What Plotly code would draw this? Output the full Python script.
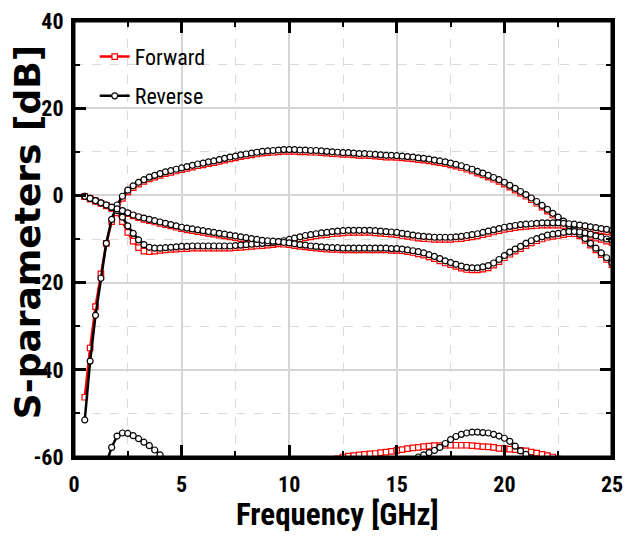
import plotly.graph_objects as go

# frequency points (GHz)
freq = [
    0.5, 0.75, 1.0, 1.25, 1.5, 1.75, 2.0, 2.25, 2.5, 2.75,
    3.0, 3.25, 3.5, 3.75, 4.0, 4.25, 4.5, 4.75, 5.0, 5.25,
    5.5, 5.75, 6.0, 6.25, 6.5, 6.75, 7.0, 7.25, 7.5, 7.75,
    8.0, 8.25, 8.5, 8.75, 9.0, 9.25, 9.5, 9.75, 10.0, 10.25,
    10.5, 10.75, 11.0, 11.25, 11.5, 11.75, 12.0, 12.25, 12.5, 12.75,
    13.0, 13.25, 13.5, 13.75, 14.0, 14.25, 14.5, 14.75, 15.0, 15.25,
    15.5, 15.75, 16.0, 16.25, 16.5, 16.75, 17.0, 17.25, 17.5, 17.75,
    18.0, 18.25, 18.5, 18.75, 19.0, 19.25, 19.5, 19.75, 20.0, 20.25,
    20.5, 20.75, 21.0, 21.25, 21.5, 21.75, 22.0, 22.25, 22.5, 22.75,
    23.0, 23.25, 23.5, 23.75, 24.0, 24.25, 24.5, 24.75, 25.0,
]

# ---- Reverse (black) ----
s21_rev = [
    -51.5, -38.0, -27.5, -19.0, -11.0, -5.5, -2.2, -0.2, 1.2, 2.2,
    3.0, 3.6, 4.2, 4.6, 5.0, 5.4, 5.7, 6.0, 6.3, 6.6,
    6.9, 7.2, 7.4, 7.7, 7.9, 8.2, 8.5, 8.8, 9.0, 9.3,
    9.5, 9.7, 9.9, 10.1, 10.2, 10.3, 10.4, 10.5, 10.5, 10.5,
    10.4, 10.4, 10.3, 10.3, 10.2, 10.1, 10.0, 9.9, 9.8, 9.8,
    9.7, 9.6, 9.6, 9.5, 9.4, 9.3, 9.2, 9.2, 9.1, 9.0,
    8.9, 8.8, 8.6, 8.5, 8.3, 8.1, 7.9, 7.7, 7.4, 7.1,
    6.8, 6.4, 6.0, 5.5, 5.1, 4.6, 4.1, 3.6, 3.0, 2.3,
    1.6, 0.9, 0.2, -0.6, -1.4, -2.3, -3.2, -4.1, -5.0, -5.9,
    -6.9, -7.9, -8.9, -9.9, -11.0, -12.1, -13.2, -14.3, -15.5,
]
s11_rev = [
    -0.2, -0.7, -1.2, -1.7, -2.2, -2.8, -3.5, -5.0, -7.0, -8.7,
    -10.2, -11.3, -11.9, -12.1, -12.1, -12.0, -11.9, -11.8, -11.7, -11.7,
    -11.6, -11.6, -11.6, -11.6, -11.6, -11.6, -11.6, -11.6, -11.5, -11.4,
    -11.3, -11.2, -11.1, -11.0, -10.9, -10.8, -10.6, -10.4, -10.1, -9.8,
    -9.5, -9.2, -9.0, -8.8, -8.6, -8.5, -8.3, -8.2, -8.1, -8.0,
    -8.0, -8.0, -8.0, -8.0, -8.1, -8.2, -8.3, -8.4, -8.5, -8.7,
    -8.9, -9.1, -9.3, -9.4, -9.5, -9.6, -9.6, -9.6, -9.6, -9.5,
    -9.4, -9.2, -9.0, -8.8, -8.5, -8.2, -7.9, -7.6, -7.3, -7.1,
    -6.9, -6.7, -6.6, -6.5, -6.4, -6.3, -6.3, -6.3, -6.3, -6.4,
    -6.5, -6.6, -6.8, -7.0, -7.2, -7.4, -7.6, -7.8, -8.0,
]
s22_rev = [
    -0.2, -0.7, -1.2, -1.7, -2.2, -2.7, -3.1, -3.5, -4.0, -4.5,
    -4.9, -5.2, -5.5, -5.8, -6.1, -6.4, -6.7, -7.0, -7.3, -7.5,
    -7.7, -7.9, -8.1, -8.3, -8.5, -8.7, -8.9, -9.1, -9.3, -9.5,
    -9.7, -9.9, -10.1, -10.3, -10.4, -10.5, -10.6, -10.8, -10.9, -11.1,
    -11.3, -11.4, -11.6, -11.7, -11.8, -11.9, -12.0, -12.0, -12.1, -12.1,
    -12.1, -12.1, -12.1, -12.1, -12.1, -12.1, -12.1, -12.2, -12.2, -12.3,
    -12.5, -12.7, -12.9, -13.2, -13.6, -14.0, -14.5, -15.0, -15.4, -15.8,
    -16.2, -16.5, -16.6, -16.6, -16.4, -16.1, -15.5, -14.7, -13.8, -13.0,
    -12.3, -11.7, -11.0, -10.4, -9.9, -9.5, -9.1, -8.9, -8.7, -8.5,
    -8.3, -8.3, -8.4, -8.6, -8.9, -9.3, -9.6, -10.0, -10.3,
]
s12_rev = [
    -75.0, -72.0, -69.0, -65.0, -61.5, -57.8, -55.2, -54.5, -54.6, -55.1,
    -55.8, -56.6, -57.4, -58.4, -59.5, -60.6, -61.7, -62.8, -64.0, -65.0,
    -66.0, -67.0, -68.0, -69.0, -70.0, -71.0, -72.0, -73.0, -74.0, -75.0,
    -76.0, -77.0, -78.0, -79.0, -80.0, -80.0, -80.0, -80.0, -80.0, -80.0,
    -80.0, -79.0, -78.0, -77.0, -76.0, -75.0, -74.0, -73.0, -72.0, -71.0,
    -70.0, -69.0, -68.0, -67.0, -66.0, -65.0, -64.0, -63.3, -62.6, -62.0,
    -61.4, -60.7, -60.0, -59.5, -59.0, -58.5, -57.8, -56.9, -56.0, -55.3,
    -54.8, -54.5, -54.3, -54.3, -54.4, -54.5, -54.8, -55.2, -55.7, -56.4,
    -57.5, -58.6, -59.4, -60.2, -61.0, -62.0, -63.0, -64.0, -65.0, -66.0,
    -67.0, -68.0, -69.0, -70.0, -71.0, -72.0, -73.0, -74.0, -75.0,
]

# ---- Forward (red) ----
s21_fwd = [
    -46.3, -35.0, -25.5, -18.0, -11.0, -6.0, -2.8, -0.7, 0.8, 1.8,
    2.6, 3.2, 3.8, 4.2, 4.6, 5.0, 5.3, 5.6, 5.9, 6.2,
    6.5, 6.8, 7.0, 7.3, 7.5, 7.8, 8.1, 8.4, 8.6, 8.9,
    9.1, 9.3, 9.5, 9.7, 9.8, 9.9, 10.0, 10.1, 10.1, 10.1,
    10.0, 10.0, 9.9, 9.9, 9.8, 9.7, 9.6, 9.5, 9.4, 9.4,
    9.3, 9.2, 9.2, 9.1, 9.0, 8.9, 8.8, 8.8, 8.7, 8.6,
    8.5, 8.4, 8.2, 8.1, 7.9, 7.7, 7.5, 7.3, 7.0, 6.7,
    6.4, 6.0, 5.6, 5.1, 4.7, 4.2, 3.7, 3.2, 2.6, 1.9,
    1.2, 0.5, -0.2, -1.0, -1.8, -2.7, -3.6, -4.5, -5.4, -6.3,
    -7.3, -8.3, -9.3, -10.3, -11.4, -12.5, -13.6, -14.7, -15.9,
]
s11_fwd = [
    -0.3, -0.8, -1.3, -1.8, -2.4, -3.0, -4.0, -6.0, -8.5, -10.5,
    -12.0, -12.8, -12.9, -12.8, -12.6, -12.5, -12.4, -12.3, -12.2, -12.2,
    -12.1, -12.1, -12.1, -12.1, -12.1, -12.1, -12.1, -12.1, -12.0, -11.9,
    -11.8, -11.7, -11.6, -11.5, -11.4, -11.3, -11.1, -10.9, -10.6, -10.3,
    -10.0, -9.7, -9.5, -9.3, -9.1, -9.0, -8.8, -8.7, -8.6, -8.5,
    -8.5, -8.5, -8.5, -8.5, -8.6, -8.7, -8.8, -8.9, -9.0, -9.2,
    -9.4, -9.6, -9.8, -9.9, -10.0, -10.1, -10.1, -10.1, -10.1, -10.0,
    -9.9, -9.7, -9.5, -9.3, -9.0, -8.7, -8.4, -8.1, -7.8, -7.6,
    -7.4, -7.2, -7.1, -7.0, -6.9, -6.8, -6.8, -6.8, -6.8, -6.9,
    -7.0, -7.1, -7.3, -7.5, -7.7, -7.9, -8.1, -8.3, -8.5,
]
s22_fwd = [
    -0.3, -0.8, -1.3, -1.8, -2.3, -2.8, -3.3, -3.7, -4.2, -4.7,
    -5.1, -5.5, -5.8, -6.1, -6.4, -6.7, -7.0, -7.3, -7.6, -7.9,
    -8.1, -8.3, -8.5, -8.7, -8.9, -9.1, -9.3, -9.5, -9.7, -9.9,
    -10.1, -10.3, -10.5, -10.7, -10.8, -10.9, -11.0, -11.2, -11.3, -11.5,
    -11.7, -11.8, -12.0, -12.1, -12.2, -12.3, -12.4, -12.4, -12.5, -12.5,
    -12.5, -12.5, -12.5, -12.5, -12.5, -12.5, -12.5, -12.6, -12.6, -12.7,
    -12.9, -13.1, -13.4, -13.7, -14.1, -14.5, -15.0, -15.5, -15.9, -16.3,
    -16.7, -17.0, -17.1, -17.1, -16.9, -16.6, -16.0, -15.2, -14.3, -13.5,
    -12.8, -12.2, -11.5, -10.9, -10.4, -10.0, -9.6, -9.4, -9.2, -9.0,
    -8.8, -8.8, -8.9, -9.1, -9.4, -9.8, -10.1, -10.5, -10.8,
]
s12_fwd = [
    -85.0, -84.0, -83.0, -82.0, -81.0, -80.0, -79.0, -78.0, -77.0, -76.0,
    -75.5, -75.0, -74.5, -74.0, -73.5, -73.0, -72.5, -72.0, -71.5, -71.0,
    -70.5, -70.0, -69.5, -69.0, -68.5, -68.0, -67.5, -67.0, -66.5, -66.0,
    -65.8, -65.4, -65.0, -64.6, -64.2, -63.8, -63.4, -63.0, -62.8, -62.6,
    -62.4, -62.2, -62.0, -61.8, -61.5, -61.2, -60.8, -60.4, -60.0, -59.8,
    -59.7, -59.5, -59.4, -59.3, -59.2, -59.0, -58.9, -58.7, -58.5, -58.3,
    -58.1, -57.9, -57.8, -57.6, -57.5, -57.4, -57.4, -57.3, -57.3, -57.3,
    -57.3, -57.3, -57.4, -57.5, -57.6, -57.7, -57.8, -58.0, -58.1, -58.2,
    -58.3, -58.5, -58.6, -58.9, -59.1, -59.4, -59.7, -60.0, -60.5, -61.0,
    -61.5, -62.0, -62.5, -63.0, -63.5, -64.0, -64.5, -65.0, -65.5,
]

# tick labels (plain hyphen like the original)
x_ticks = [0, 5, 10, 15, 20, 25]
x_ticktext = ["0", "5", "10", "15", "20", "25"]
y_ticks = [-60, -40, -20, 0, 20, 40]
y_ticktext = ["-60", "-40", "-20", "0", "20", "40"]

NARROW = "Roboto Condensed, Roboto, DejaVu Sans Condensed, sans-serif"

fig = go.Figure()

# forward curves first so the reverse ones sit on top
for i, ys in enumerate([s21_fwd, s11_fwd, s22_fwd, s12_fwd]):
    fig.add_trace(
        go.Scatter(
            x=freq, y=ys, mode="lines+markers",
            name="Forward", legend="legend", showlegend=(i == 0),
            line=dict(color="#ff0000", width=2.5),
            marker=dict(symbol="square", size=5.5, color="white",
                        line=dict(color="#ff0000", width=1.2)),
        )
    )

for i, ys in enumerate([s21_rev, s11_rev, s22_rev, s12_rev]):
    fig.add_trace(
        go.Scatter(
            x=freq, y=ys, mode="lines+markers",
            name="Reverse", legend="legend2", showlegend=(i == 0),
            line=dict(color="black", width=2.5),
            marker=dict(symbol="circle", size=6, color="white",
                        line=dict(color="black", width=1.2)),
        )
    )

axis_common = dict(
    showline=True, linewidth=3, linecolor="black", mirror="ticks",
    ticks="inside", ticklen=12, tickwidth=2.5, tickcolor="black",
    showgrid=True, gridcolor="#d4d4d4", gridwidth=1.5, zeroline=False,
    automargin=False, ticklabeloverflow="allow",
    tickfont=dict(family=NARROW, size=22, color="black", weight="bold"),
)

fig.update_xaxes(
    range=[0, 25], tickvals=x_ticks, ticktext=x_ticktext,
    minor=dict(dtick=2.5, tick0=0, ticks="inside", ticklen=6, tickwidth=2,
               tickcolor="black", showgrid=True, gridcolor="#dadada",
               griddash="dash", gridwidth=1),
    ticklabelstandoff=6,
    **axis_common,
)
fig.update_yaxes(
    range=[-60, 40], tickvals=y_ticks, ticktext=y_ticktext,
    minor=dict(dtick=10, tick0=0, ticks="inside", ticklen=6, tickwidth=2,
               tickcolor="black", showgrid=True, gridcolor="#dadada",
               griddash="dash", gridwidth=1),
    ticklabelstandoff=3,
    **axis_common,
)

legend_font = dict(family=NARROW, size=22, color="black")
fig.update_layout(
    width=625, height=542,
    margin=dict(l=74, r=13, t=21, b=85, autoexpand=False),
    paper_bgcolor="white", plot_bgcolor="white",
    legend=dict(x=0.0385, y=0.966, xanchor="left", yanchor="top",
                bgcolor="rgba(0,0,0,0)", font=legend_font),
    legend2=dict(x=0.0385, y=0.876, xanchor="left", yanchor="top",
                 bgcolor="rgba(0,0,0,0)", font=legend_font),
    # closed frame round the plot area
    shapes=[
        dict(type="rect", xref="paper", yref="paper", x0=0, x1=1, y0=0, y1=1,
             line=dict(color="black", width=3), layer="above"),
    ],
    annotations=[
        dict(text="Frequency [GHz]", xref="paper", yref="paper",
             x=0.49, y=-0.133, xanchor="center", yanchor="middle",
             showarrow=False,
             font=dict(family=NARROW, size=31, color="black", weight="bold")),
        dict(text="S-parameters [dB]", xref="paper", yref="paper",
             x=-0.087, y=0.516, xanchor="center", yanchor="middle",
             textangle=-90, showarrow=False,
             font=dict(family="DejaVu Sans, sans-serif", size=36,
                       color="black", weight="bold")),
    ],
)

# no page margin and no scrollbars, so the 625x542 figure fills the window
page_fix = (
    "document.documentElement.style.overflow = 'hidden';"
    "document.body.style.overflow = 'hidden';"
    "document.body.style.margin = '0px';"
)
fig.write_html("out.html", post_script=page_fix,
               config={"displayModeBar": False})
